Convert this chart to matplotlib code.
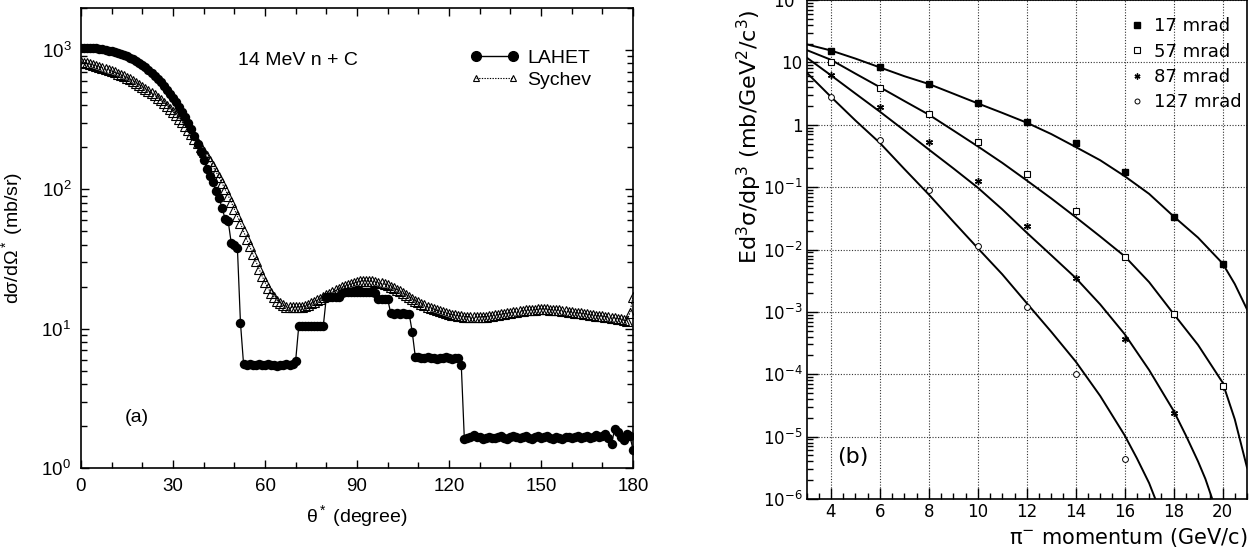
import numpy as np
import matplotlib
matplotlib.use('Agg')
import matplotlib.pyplot as plt
from matplotlib.lines import Line2D
from matplotlib.ticker import MultipleLocator, FixedLocator, NullFormatter

plt.rcParams['mathtext.fontset'] = 'custom'
plt.rcParams['mathtext.rm'] = 'Liberation Sans'
plt.rcParams['mathtext.it'] = 'Liberation Sans:italic'
plt.rcParams['mathtext.bf'] = 'Liberation Sans:bold'

# ---------------- panel (a) data ----------------
theta = np.arange(0, 181)
lahet = [
    1040, 1040, 1038, 1035, 1030, 1025, 1018, 1010, 1000, 990,
    978, 965, 950, 935, 918, 900, 880, 858, 835, 810,
    782, 752, 720, 688, 655, 620, 585, 550, 515, 485,
    455, 420, 390, 360, 330, 300, 272, 242, 210, 185,
    162, 140, 125, 112, 97, 86, 74, 61, 59, 41,
    40, 38, 11, 5.6, 5.5, 5.6, 5.5, 5.5, 5.6, 5.5,
    5.5, 5.6, 5.5, 5.5, 5.4, 5.5, 5.5, 5.6, 5.5, 5.6,
    5.9, 10.4, 10.5, 10.4, 10.4, 10.5, 10.4, 10.4, 10.5, 10.4,
    16.8, 16.9, 16.8, 16.9, 17.0, 18.0, 18.3, 18.4, 18.3, 18.4,
    18.3, 18.4, 18.3, 18.2, 18.3, 18.2, 18.0, 16.3, 16.2, 16.3,
    16.3, 12.9, 12.8, 12.9, 12.8, 12.9, 12.8, 12.8, 9.5, 6.3,
    6.3, 6.2, 6.2, 6.3, 6.2, 6.2, 6.1, 6.2, 6.2, 6.3,
    6.2, 6.1, 6.2, 6.2, 5.5, 1.62, 1.65, 1.68, 1.72, 1.66,
    1.66, 1.62, 1.64, 1.68, 1.65, 1.63, 1.66, 1.69, 1.64, 1.62,
    1.67, 1.70, 1.66, 1.63, 1.68, 1.71, 1.65, 1.62, 1.67, 1.69,
    1.64, 1.66, 1.70, 1.63, 1.61, 1.67, 1.65, 1.62, 1.66, 1.68,
    1.63, 1.66, 1.69, 1.64, 1.67, 1.70, 1.65, 1.68, 1.72, 1.66,
    1.70, 1.75, 1.65, 1.48, 1.90, 1.80, 1.68, 1.60, 1.75, 1.70,
    1.35,
]
sychev = [
    820, 810, 800, 790, 780, 770, 758, 745, 732, 718,
    704, 690, 676, 661, 646, 630, 614, 598, 581, 564,
    546, 528, 510, 492, 473, 454, 435, 416, 397, 378,
    359, 340, 321, 302, 284, 266, 248, 231, 215, 200,
    186, 172, 159, 146, 134, 122, 111, 100, 90, 81,
    72, 64, 57, 50, 44, 39, 34.5, 30.5, 27, 24,
    21.5, 19.5, 18, 16.8, 15.9, 15.2, 14.7, 14.4, 14.2, 14.2,
    14.2, 14.3, 14.4, 14.6, 14.9, 15.2, 15.6, 16.0, 16.4, 16.8,
    17.3, 17.8, 18.3, 18.8, 19.3, 19.8, 20.2, 20.6, 21.0, 21.3,
    21.6, 21.8, 22.0, 22.0, 21.9, 21.8, 21.6, 21.4, 21.1, 20.8,
    20.5, 20.0, 19.5, 19.0, 18.5, 17.9, 17.4, 16.9, 16.4, 15.9,
    15.5, 15.1, 14.7, 14.4, 14.1, 13.8, 13.5, 13.3, 13.1, 12.9,
    12.8, 12.6, 12.5, 12.4, 12.3, 12.2, 12.2, 12.1, 12.1, 12.1,
    12.1, 12.2, 12.2, 12.3, 12.4, 12.5, 12.6, 12.7, 12.8, 12.9,
    13.0, 13.1, 13.2, 13.3, 13.4, 13.5, 13.6, 13.7, 13.7, 13.8,
    13.8, 13.8, 13.8, 13.7, 13.7, 13.6, 13.5, 13.4, 13.3, 13.2,
    13.1, 13.0, 12.9, 12.9, 12.8, 12.7, 12.6, 12.5, 12.4, 12.3,
    12.3, 12.2, 12.1, 12.0, 11.9, 11.8, 11.7, 11.5, 11.4, 13.0,
    17.0,
]
a_xticks = [0, 30, 60, 90, 120, 150, 180]

# ---------------- panel (b) data ----------------
p_mom = [4, 6, 8, 10, 12, 14, 16, 18, 20]
mrad17 = [15.3, 8.3, 4.5, 2.2, 1.09, 0.51, 0.175, 0.033, 0.0059]
mrad57 = [10.1, 3.95, 1.5, 0.53, 0.164, 0.042, 0.0076, 0.00093, 6.4e-5]
p_mom87 = [4, 6, 8, 10, 12, 14, 16, 18]
mrad87 = [6.2, 1.96, 0.53, 0.124, 0.024, 0.0035, 3.7e-4, 2.4e-5]
p_mom127 = [4, 6, 8, 10, 12, 14, 16]
mrad127 = [2.8, 0.56, 0.089, 0.0113, 0.0012, 1.02e-4, 4.3e-6]

fit_p17 = [3, 4, 5, 6, 7, 8, 9, 10, 11, 12, 13, 14, 15, 16, 17, 18, 19, 20, 20.5, 21]
fit17 = [19.5, 15.5, 11.5, 8.3, 6.0, 4.5, 3.15, 2.2, 1.55, 1.08, 0.71, 0.44, 0.27,
         0.15, 0.078, 0.034, 0.0155, 0.0060, 0.0028, 0.0011]
fit_p57 = [3, 4, 5, 6, 7, 8, 9, 10, 11, 12, 13, 14, 15, 16, 17, 18, 19, 20, 20.5, 21]
fit57 = [15.8, 11.0, 6.6, 4.0, 2.4, 1.45, 0.81, 0.45, 0.245, 0.128, 0.066, 0.033,
         0.0162, 0.0078, 0.0030, 0.00093, 2.95e-4, 7.4e-5, 1.9e-5, 3.2e-6]
fit_p87 = [3, 4, 5, 6, 7, 8, 9, 10, 11, 12, 13, 14, 15, 16, 17, 18, 18.5, 19, 19.3, 19.6, 19.7]
fit87 = [12.0, 6.2, 3.16, 1.62, 0.81, 0.40, 0.20, 0.098, 0.044, 0.0186, 0.0081,
         0.0035, 0.00132, 4.4e-4, 1.17e-4, 2.6e-5, 1.05e-5, 4.0e-6, 2.1e-6, 9.5e-7, 7e-7]
fit_p127 = [3, 4, 5, 6, 7, 8, 9, 10, 11, 12, 13, 14, 15, 16, 16.5, 17, 17.3, 17.4]
fit127 = [6.9, 2.8, 1.17, 0.51, 0.195, 0.076, 0.028, 0.0105, 0.0040, 0.00138,
          4.8e-4, 1.6e-4, 4.5e-5, 1.05e-5, 4.5e-6, 1.8e-6, 9e-7, 7e-7]

b_xticks = [4, 6, 8, 10, 12, 14, 16, 18, 20]
b_yticks = [1e-6, 1e-5, 1e-4, 1e-3, 1e-2, 1e-1, 1, 10, 100]
b_yticklabels = [r'10$^{-6}$', r'10$^{-5}$', r'10$^{-4}$', r'10$^{-3}$', r'10$^{-2}$',
                 r'10$^{-1}$', '1', '10', r'10$^{2}$']

# ---------------- figure ----------------
fig = plt.figure(figsize=(12.56, 5.48), dpi=100)

# ---- panel (a) ----
LS = 'Liberation Sans'
ax1 = fig.add_axes([81 / 1256, 80 / 548, 552 / 1256, 460 / 548])
ax1.plot(theta, sychev, ls=(0, (1.2, 1.2)), lw=0.8, color='black', marker='^',
         ms=7.2, mfc='none', mec='black', mew=0.8)
ax1.plot(theta, lahet, ls='-', lw=0.9, color='black', marker='o', ms=6.8,
         mfc='black', mec='black', mew=0)
ax1.set_yscale('log')
ax1.set_xlim(0, 180)
ax1.set_ylim(1, 2000)
ax1.set_xticks(a_xticks)
ax1.xaxis.set_minor_locator(MultipleLocator(10))
ax1.tick_params(which='both', direction='in', top=True, right=True, width=1.0)
ax1.tick_params(which='major', length=6, labelsize=13.5, pad=7)
ax1.tick_params(which='minor', length=4)
for lab in ax1.get_xticklabels() + ax1.get_yticklabels():
    lab.set_fontfamily(LS)
for s in ax1.spines.values():
    s.set_linewidth(1.2)
ax1.set_xlabel(r'θ$^*$ (degree)', fontsize=14, family=LS, labelpad=6)
ax1.set_ylabel(r'dσ/dΩ$^*$ (mb/sr)', fontsize=14, family=LS, labelpad=12)
ax1.text(0.285, 0.885, '14 MeV n + C', transform=ax1.transAxes, fontsize=14,
         family=LS, va='center', ha='left')
ax1.text(0.08, 0.11, '(a)', transform=ax1.transAxes, fontsize=14, family=LS,
         va='center', ha='left')
h1 = Line2D([], [], ls='-', lw=1.0, color='black', marker='o', ms=7, mfc='black', mec='black')
h2 = Line2D([], [], ls=(0, (1.2, 1.2)), lw=0.8, color='black', marker='^', ms=4.5,
            mfc='none', mec='black', mew=0.8)
leg1 = ax1.legend([h1, h2], ['LAHET', 'Sychev'], loc='upper left',
                  bbox_to_anchor=(0.705, 0.91), frameon=False, numpoints=2,
                  handlelength=2.5, handletextpad=0.45, labelspacing=0.2,
                  borderpad=0, borderaxespad=0, prop={'family': LS, 'size': 14})

# ---- panel (b) ----
DV = 'DejaVu Sans'
ax2 = fig.add_axes([806.5 / 1256, 49 / 548, 440.5 / 1256, 499 / 548])
ax2.set_yscale('log')
ax2.set_xlim(3, 21)
ax2.set_ylim(1e-6, 1e2)
ax2.grid(True, which='major', ls=(0, (1, 1.5)), lw=0.8, color='#333333')
for xs, ys in [(fit_p17, fit17), (fit_p57, fit57), (fit_p87, fit87), (fit_p127, fit127)]:
    ax2.plot(xs, ys, color='black', lw=1.4)
ax2.plot(p_mom, mrad17, ls='none', marker='s', ms=4.5, mfc='black', mec='black',
         label='17 mrad')
ax2.plot(p_mom, mrad57, ls='none', marker='s', ms=4.8, mfc='white', mec='black',
         mew=0.8, label='57 mrad')
ax2.plot(p_mom87, mrad87, ls='none', marker=(6, 2, 0), ms=5, mec='black', mew=1.0,
         label='87 mrad')
ax2.plot(p_mom127, mrad127, ls='none', marker='o', ms=4.2, mfc='white', mec='black',
         mew=0.7, label='127 mrad')
ax2.set_xticks(b_xticks)
ax2.xaxis.set_minor_locator(MultipleLocator(0.5))
ax2.set_yticks(b_yticks, labels=b_yticklabels)
ax2.yaxis.set_minor_locator(FixedLocator([m * 10.0 ** e for e in range(-6, 2)
                                          for m in range(2, 10)]))
ax2.yaxis.set_minor_formatter(NullFormatter())
ax2.tick_params(which='both', direction='in', top=False, right=False, width=1.0)
ax2.tick_params(which='major', length=8, labelsize=12, pad=3)
ax2.tick_params(which='minor', length=4)
for s in ax2.spines.values():
    s.set_linewidth(1.2)
for lab in ax2.get_xticklabels() + ax2.get_yticklabels():
    lab.set_fontfamily(DV)
    lab.set_math_fontfamily('dejavusans')
xl = ax2.set_xlabel(r'π$^{-}$ momentum (GeV/c)', fontsize=15, family=DV, labelpad=3)
xl.set_math_fontfamily('dejavusans')
ax2.xaxis.set_label_coords(1.0, -0.055)
xl.set_horizontalalignment('right')
yl = fig.text(749 / 1256, 1 - 9 / 548, r'Ed$^3$σ/dp$^3$ (mb/GeV$^2$/c$^3$)',
              rotation=90, ha='center', va='top', fontsize=16, family=DV)
yl.set_math_fontfamily('dejavusans')
ax2.text(0.07, 0.085, '(b)', transform=ax2.transAxes, fontsize=16, family=DV,
         va='center', ha='left')
leg2 = ax2.legend(loc='upper left', bbox_to_anchor=(0.735, 0.965), frameon=False,
                  numpoints=1, handlelength=0.8, handletextpad=0.5, labelspacing=0.4,
                  borderpad=0, borderaxespad=0, markerscale=0.85,
                  prop={'family': DV, 'size': 13})

fig.savefig('out.png', dpi=100)
